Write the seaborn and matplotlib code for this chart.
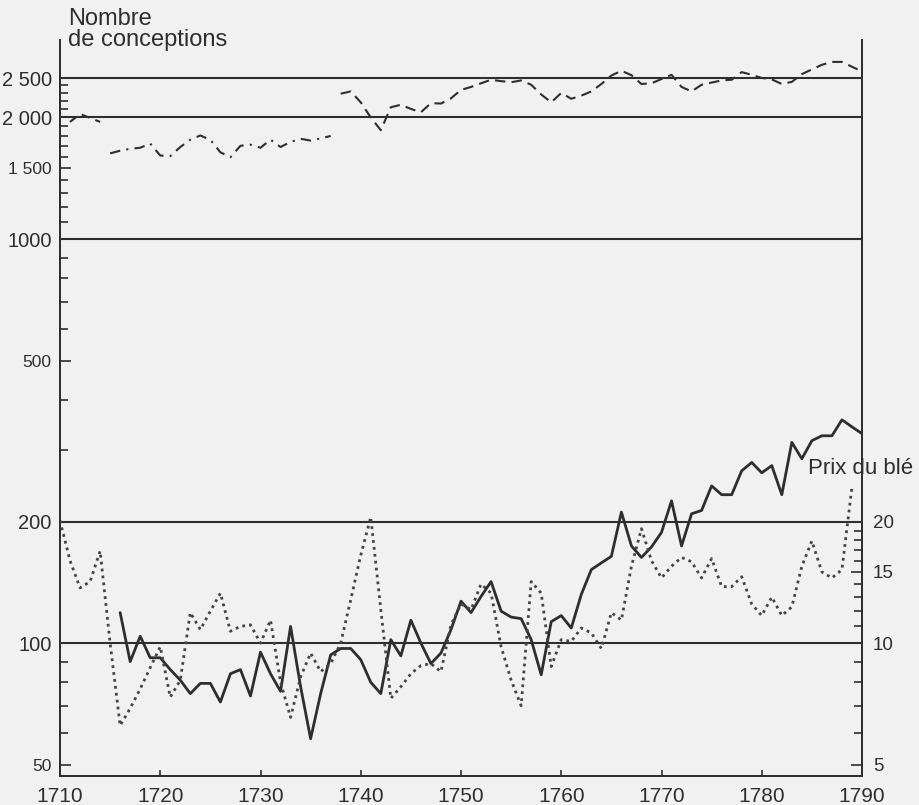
import matplotlib
matplotlib.use("Agg")
import matplotlib.pyplot as plt
import matplotlib.ticker as mticker
import pandas as pd
import seaborn as sns

# Conceptions, first fragment (1711-1714)
early_years = [1711, 1712, 1713, 1714]
early_conceptions = [1950, 2040, 1995, 1950]

# Conceptions 1715-1737 (dash-dot curve)
mid_years = list(range(1715, 1738))
mid_conceptions = [1630, 1655, 1673, 1683, 1724, 1610, 1605, 1690, 1762, 1805,
                   1760, 1640, 1595, 1702, 1713, 1683, 1762, 1690, 1740, 1771,
                   1753, 1775, 1800]

# Conceptions 1738-1790 (dashed curve)
late_years = list(range(1738, 1791))
late_conceptions = [2290, 2320, 2180, 2000, 1860, 2120, 2150, 2100, 2060, 2170,
                    2165, 2230, 2340, 2380, 2430, 2480, 2460, 2445, 2470, 2410,
                    2280, 2180, 2300, 2225, 2265, 2320, 2420, 2540, 2610, 2545,
                    2420, 2430, 2490, 2550, 2380, 2320, 2410, 2440, 2470, 2480,
                    2590, 2550, 2505, 2485, 2420, 2450, 2560, 2630, 2700, 2745,
                    2745, 2670, 2600]

# Lower solid curve 1716-1790
low_years = list(range(1716, 1791))
low_conceptions = [119, 90, 104, 92, 92, 86, 81, 75, 79.5, 79.5,
                   71.5, 84, 86, 74, 95, 84, 76, 110, 78, 58,
                   75, 93.5, 97, 97, 91, 80, 75, 102, 93, 114,
                   100, 89, 94.5, 108, 127, 119, 130.5, 142, 120, 116,
                   115, 102, 83.5, 113, 117, 109, 132, 152, 158, 164,
                   211, 174, 163, 173, 188, 225, 174, 209, 213, 245,
                   233, 233, 267, 280, 264, 275, 233, 314, 286, 317,
                   326, 326, 357, 343, 330]

# Wheat price 1710-1789 (right axis)
price_years = list(range(1710, 1790))
wheat_price = [20.1, 16.0, 13.7, 14.2, 16.9, 10.0, 6.25, 6.9, 7.7, 8.7,
               9.8, 7.35, 8.1, 11.9, 10.8, 12.0, 13.3, 10.7, 11.0, 11.1,
               10.0, 11.4, 8.0, 6.55, 8.25, 9.45, 8.5, 8.9, 10.0, 12.8,
               16.5, 20.5, 12.1, 7.3, 7.8, 8.4, 8.8, 8.9, 8.5, 11.1,
               12.5, 12.1, 14.0, 13.3, 9.8, 8.1, 7.0, 14.2, 13.3, 8.75,
               10.2, 10.1, 10.9, 10.6, 9.7, 11.9, 11.4, 15.5, 19.2, 16.0,
               14.5, 15.5, 16.3, 15.9, 14.5, 16.2, 13.8, 13.8, 14.6, 12.5,
               11.7, 13.0, 11.7, 12.3, 15.5, 17.9, 15.0, 14.5, 15.2, 24.4]

left_ticks = [50, 100, 200, 500, 1000, 1500, 2000, 2500]
left_labels = ["50", "100", "200", "500", "1000", "1 500", "2 000", "2 500"]
small_labels = ["50", "500", "1 500"]  # printed smaller on the original
left_minor = [60, 70, 80, 90, 300, 400, 600, 700, 800, 900,
              1100, 1200, 1300, 1400, 1600, 1700, 1800, 1900,
              2100, 2200, 2300, 2400]
grid_values = [100, 200, 1000, 2000, 2500]
right_ticks = [5, 10, 15, 20]
right_minor = [6, 7, 8, 9, 11, 12, 13, 14, 16, 17, 18, 19]
year_ticks = list(range(1710, 1791, 10))

INK = "#2e2e2e"
PAPER = "#f1f1f1"

sns.set_theme(style="ticks")
plt.rcParams["font.family"] = ["Liberation Sans", "DejaVu Sans"]

fig = plt.figure(figsize=(9.19, 8.05), dpi=100, facecolor=PAPER)
ax = fig.add_axes([60 / 919, 1 - 776 / 805, 802 / 919, 736 / 805])
ax.set_facecolor(PAPER)

for y in grid_values:
    ax.axhline(y, color=INK, lw=1.5, zorder=1)

sns.lineplot(data=pd.DataFrame({"year": early_years, "n": early_conceptions}),
             x="year", y="n", ax=ax, color=INK, lw=1.5, linestyle=(0, (4, 3)))
sns.lineplot(data=pd.DataFrame({"year": mid_years, "n": mid_conceptions}),
             x="year", y="n", ax=ax, color=INK, lw=1.5, linestyle=(0, (5, 3, 1, 3)))
sns.lineplot(data=pd.DataFrame({"year": late_years, "n": late_conceptions}),
             x="year", y="n", ax=ax, color=INK, lw=1.5, linestyle=(0, (5, 3)))
sns.lineplot(data=pd.DataFrame({"year": low_years, "n": low_conceptions}),
             x="year", y="n", ax=ax, color=INK, lw=2.0)

ax.set_yscale("log")
ax.set_ylim(46.9, 3110)
ax.set_xlim(1710, 1790)
ax.yaxis.set_major_locator(mticker.FixedLocator(left_ticks))
ax.yaxis.set_major_formatter(mticker.FixedFormatter(left_labels))
ax.yaxis.set_minor_locator(mticker.FixedLocator(left_minor))
ax.yaxis.set_minor_formatter(mticker.NullFormatter())
ax.set_xticks(year_ticks)
ax.set_xticklabels([str(y) for y in year_ticks])
ax.tick_params(axis="y", which="major", direction="in", length=8, width=1.2,
               color=INK, labelcolor=INK, pad=6)
ax.tick_params(axis="y", which="minor", direction="in", length=6, width=1.2, color=INK)
ax.tick_params(axis="x", direction="in", length=4, width=1.2, color=INK,
               labelcolor=INK, pad=8)
ax.set_xlabel("")
ax.set_ylabel("")

fig.canvas.draw()
for lab in ax.get_yticklabels():
    lab.set_fontsize(12.5 if lab.get_text() in small_labels else 14.5)
for lab in ax.get_xticklabels():
    lab.set_fontsize(15)

ax2 = ax.twinx()
sns.lineplot(data=pd.DataFrame({"year": price_years, "p": wheat_price}),
             x="year", y="p", ax=ax2, color="#444444", lw=2.0, linestyle=(0, (1, 1.5)))
ax2.set_yscale("log")
ax2.set_ylim(4.69, 311)
ax2.yaxis.set_major_locator(mticker.FixedLocator(right_ticks))
ax2.yaxis.set_major_formatter(mticker.FixedFormatter([str(v) for v in right_ticks]))
ax2.yaxis.set_minor_locator(mticker.FixedLocator(right_minor))
ax2.yaxis.set_minor_formatter(mticker.NullFormatter())
ax2.tick_params(axis="y", which="major", direction="in", length=8, width=1.2,
                color=INK, labelcolor=INK, labelsize=13.5, pad=8)
ax2.tick_params(axis="y", which="minor", direction="in", length=6, width=1.2, color=INK)
ax2.set_ylabel("")

for a in (ax, ax2):
    a.spines["top"].set_visible(False)
    for side in ("left", "right", "bottom"):
        a.spines[side].set_color(INK)
        a.spines[side].set_linewidth(1.3)

fig.text(68 / 919, 1 - 8 / 805, "Nombre\nde conceptions", ha="left", va="top",
         fontsize=17, color=INK, linespacing=0.95)
fig.text(808 / 919, 1 - 468 / 805, "Prix du blé", ha="left", va="center",
         fontsize=16, color=INK)

fig.savefig("out.png", dpi=100, facecolor=PAPER)
